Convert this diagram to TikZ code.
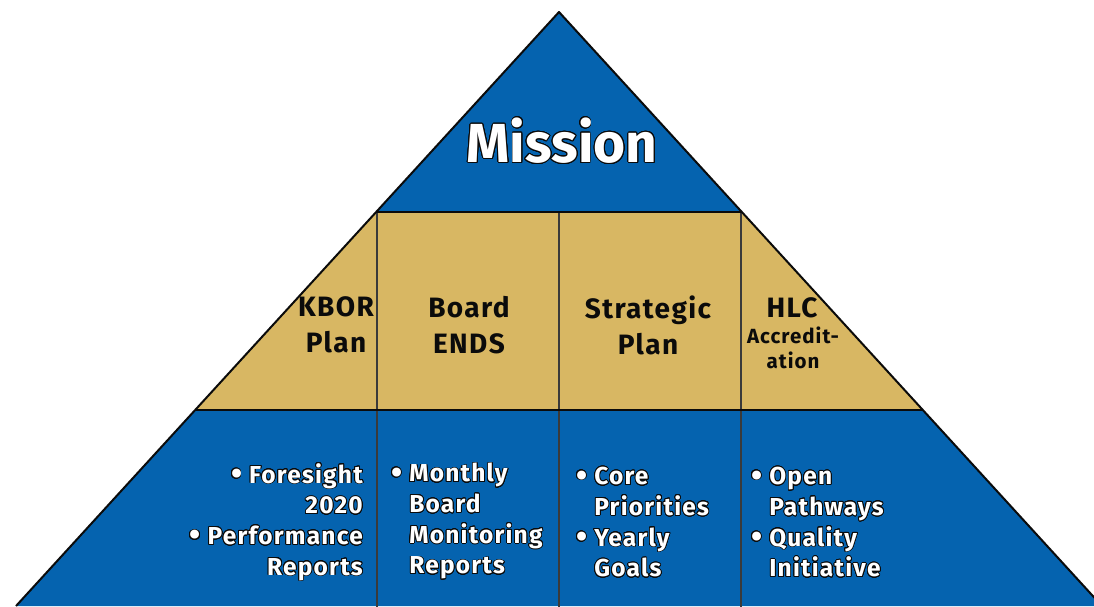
\documentclass[tikz,border=0pt]{standalone}
\usepackage{fontspec}
\setmainfont{Fira Sans}[LetterSpace=5]
\usepackage{contour}
\usetikzlibrary{calc}
\definecolor{pyrblue}{HTML}{0563AF}
\definecolor{pyrtan}{HTML}{D8B763}
\definecolor{ink}{HTML}{0B0B0B}
\definecolor{divider}{HTML}{3A3A3A}
\contourlength{0.8pt}
\contournumber{24}
\newcommand\outl[1]{\contour{ink}{#1}}
\newcommand\bul{\raisebox{-1.5pt}{\fontsize{32}{32}\selectfont\textbullet}\kern7pt}
\newcommand\nobul{\hphantom{\bul}}

\begin{document}
\begin{tikzpicture}[
  x=1pt, y=-1pt,
  edge/.style={draw=ink, line width=2pt, line join=round},
  divline/.style={draw=divider, line width=1.3pt},
  head/.style={text=ink, font=\fontsize{28}{36}\selectfont\bfseries, align=center, inner sep=0pt},
  small/.style={text=ink, font=\fontsize{20.5}{24.5}\selectfont\bfseries, align=center, inner sep=0pt},
  item/.style={text=white, font=\fontsize{24.5}{30.7}\selectfont\bfseries, inner sep=0pt}
]
\useasboundingbox (0,0) rectangle (1094,606);
\clip (0,0) rectangle (1094,606);

\coordinate (apex) at (559,12);
\coordinate (bl) at (16,606);
\coordinate (br) at (1102,606);
\coordinate (l1) at ($(apex)!0.3367!(bl)$);
\coordinate (r1) at ($(apex)!0.3367!(br)$);
\coordinate (l2) at ($(apex)!0.6700!(bl)$);
\coordinate (r2) at ($(apex)!0.6700!(br)$);

% three bands of the pyramid
\fill[pyrblue] (apex) -- (l1) -- (r1) -- cycle;
\fill[pyrtan] (l1) -- (r1) -- (r2) -- (l2) -- cycle;
\fill[pyrblue] (l2) -- (r2) -- (br) -- (bl) -- cycle;

\foreach \x in {377,559,741} {\draw[divline] (\x,212) -- (\x,610);}
\draw[edge] (l1) -- (r1);
\draw[edge] (l2) -- (r2);
\draw[edge] (bl) -- (apex) -- (br);

\node[text=white, font=\fontsize{55}{60}\selectfont\bfseries\addfontfeatures{LetterSpace=0}] (mission) at (562,141) {\outl{Mission}};

\node[head] (kbor) at (336,325) {KBOR\\Plan};
\node[head] (ends) at (469,325) {Board\\ENDS};
\node[head] (strat) at (648,325) {Strategic\\Plan};
\node[head] (hlc) at (792,308) {HLC};
\node[small] (accr) at (793,348) {Accredit-\\ation};

\node[item, anchor=north east, align=right] (kborlist) at (363,463)
  {\outl{\bul Foresight}\\\outl{2020}\\\outl{\bul Performance}\\\outl{Reports}};
\node[item, anchor=north west, align=left] (endslist) at (391,463)
  {\outl{\bul Monthly}\\\outl{\nobul Board}\\\outl{\nobul Monitoring}\\\outl{\nobul Reports}};
\node[item, anchor=north west, align=left] (stratlist) at (576,467)
  {\outl{\bul Core}\\\outl{\nobul Priorities}\\\outl{\bul Yearly}\\\outl{\nobul Goals}};
\node[item, anchor=north west, align=left] (hlclist) at (751,467)
  {\outl{\bul Open}\\\outl{\nobul Pathways}\\\outl{\bul Quality}\\\outl{\nobul Initiative}};
\end{tikzpicture}
\end{document}
